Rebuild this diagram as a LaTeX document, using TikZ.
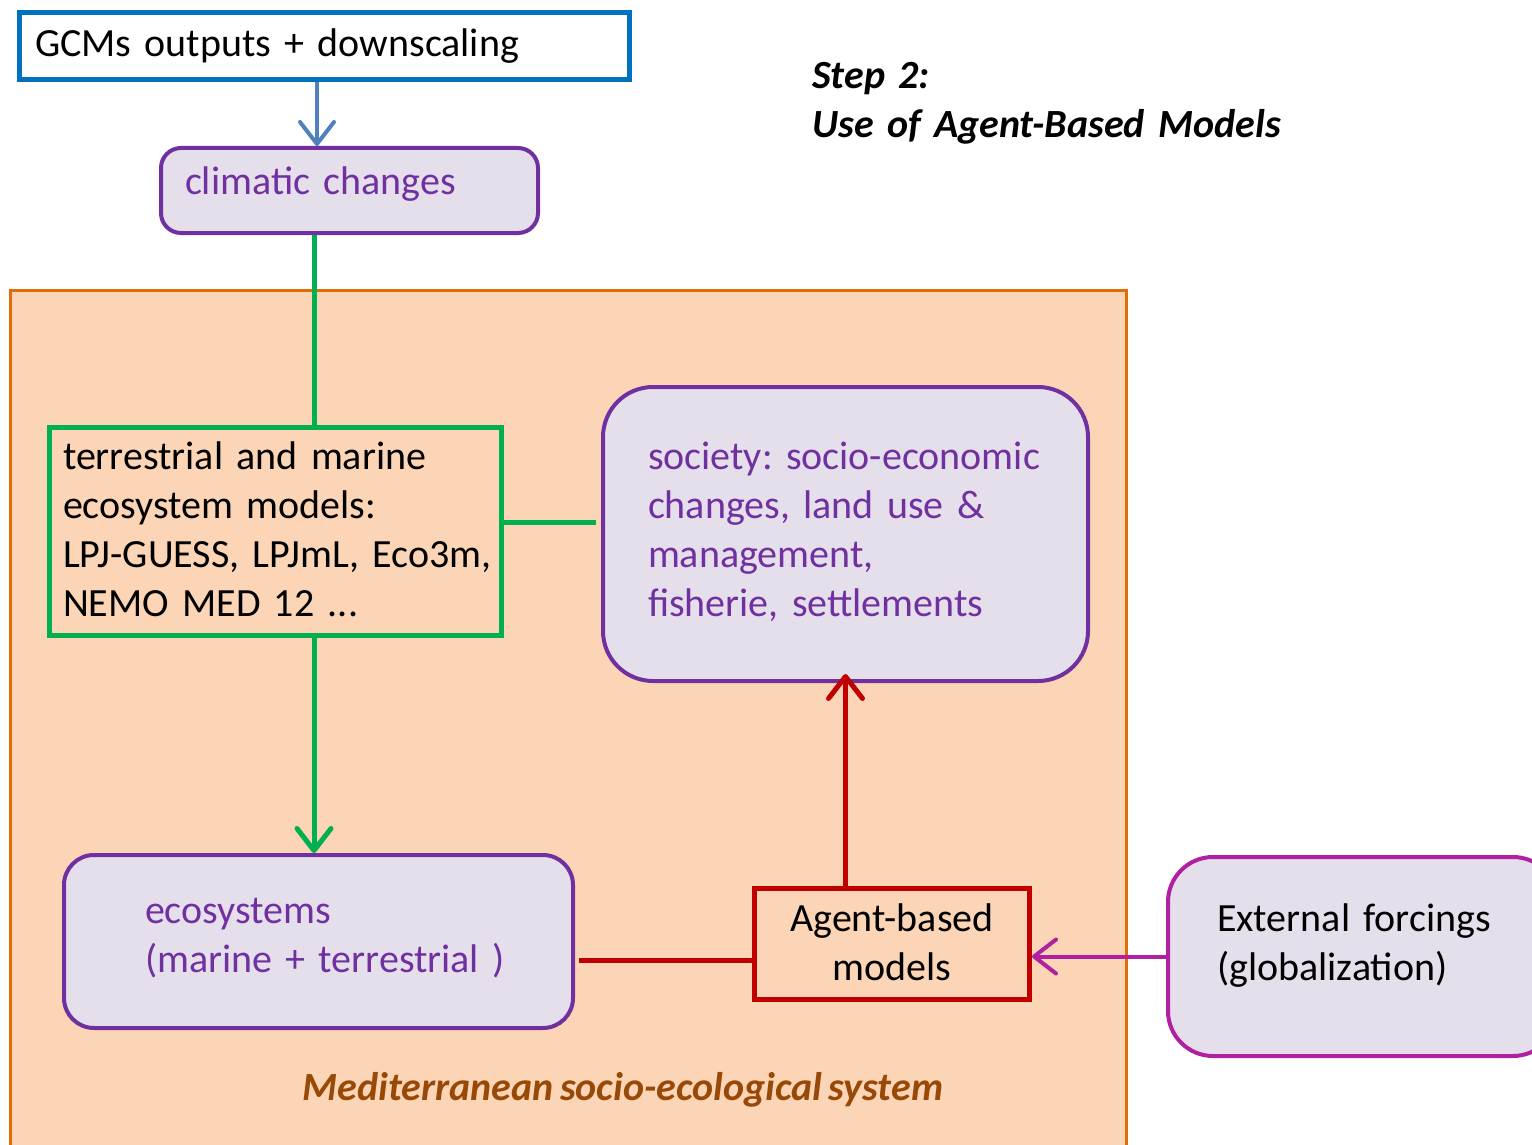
\documentclass[tikz,border=0pt]{standalone}
\usepackage{fontspec}
\setmainfont[WordSpace=0.7]{Carlito}
\frenchspacing
\usetikzlibrary{arrows.meta,calc}
\definecolor{gcmblue}{HTML}{0070C0}
\definecolor{arrblue}{HTML}{4F81BD}
\definecolor{purp}{HTML}{7030A0}
\definecolor{lav}{HTML}{E5DFEC}
\definecolor{panelfill}{HTML}{FBD5B5}
\definecolor{paneldraw}{HTML}{E36C09}
\definecolor{grn}{HTML}{00B050}
\definecolor{redc}{HTML}{C00000}
\definecolor{mag}{RGB}{176,32,160}
\definecolor{brownc}{HTML}{984807}
\tikzset{
  box/.style={draw, inner xsep=0pt, inner ysep=0pt, font=\fontsize{40}{49}\selectfont, align=left},
  rbox/.style={box, fill=lav, line width=4pt},
  tip/.style={-{Straight Barb[length=22pt,width=34pt,round]}},
  conn/.style={line width=5pt},
}
\begin{document}
\begin{tikzpicture}[x=1pt,y=-1pt]
\useasboundingbox (0,0) rectangle (1532,1145);
\fill[white] (0,0) rectangle (1532,1145);
% panel
\node[draw=paneldraw, fill=panelfill, line width=3pt, minimum width=1116pt, minimum height=860pt, inner sep=0pt] (panel) at (568.5,720) {};
% boxes
\node[box, draw=gcmblue, fill=white, line width=5pt, minimum width=610pt, minimum height=67pt, text width=579pt] (gcm) at (324.5,46) {GCMs outputs + downscaling};
\node[rbox, draw=purp, text=purp, rounded corners=20pt, minimum width=377pt, minimum height=85pt, text width=329pt, text height=30pt, text depth=23pt] (clim) at (349.5,190.5) {climatic changes};
\node[box, draw=grn, line width=5pt, minimum width=452pt, minimum height=208pt, text width=425pt, text height=30pt, text depth=155pt] (terr) at (275.5,531.5)
  {\mbox{terrestrial and marine}\\\mbox{ecosystem models:}\\\mbox{LPJ-GUESS, LPJmL, Eco3m,}\\\mbox{NEMO MED 12 ...}};
\node[rbox, draw=purp, text=purp, rounded corners=50pt, minimum width=485pt, minimum height=294pt, text width=395pt, text height=30pt, text depth=160pt] (soc) at (845.5,534)
  {\mbox{society: socio-economic}\\\mbox{changes, land use \&}\\\mbox{management,}\\\mbox{fisherie, settlements}};
\node[rbox, draw=purp, text=purp, rounded corners=30pt, minimum width=509pt, minimum height=173pt, text width=347pt, text height=30pt, text depth=67pt] (eco) at (318.5,941.5)
  {\mbox{ecosystems}\\\mbox{(marine + terrestrial )}};
\node[box, draw=redc, line width=5pt, align=center, minimum width=275pt, minimum height=111pt, text width=260pt, text height=30pt, text depth=56pt] (abm) at (892,944)
  {\mbox{Agent-based}\\\mbox{models}};
\node[rbox, draw=mag, rounded corners=45pt, minimum width=390pt, minimum height=199pt, text width=292pt, text height=30pt, text depth=81pt] (ext) at (1363,956.5)
  {\mbox{External forcings}\\\mbox{(globalization)}};
% texts
\node[font=\fontsize{40}{49}\selectfont\bfseries\itshape, anchor=west, align=left, text width=520pt, inner sep=0pt, text height=30pt, text depth=57pt] (title) at (812,102.5)
  {Step 2:\\Use of Agent-Based Models};
\node[font=\fontsize{40}{48}\selectfont\bfseries\itshape, text=brownc, inner sep=0pt] (medlabel) at (623,1090) {Mediterranean socio-ecological system};
% connectors
\coordinate (gx) at (314,0);
\draw[arrblue, line width=4pt, tip] ([xshift=-7.5pt]gcm.south) -- ([xshift=-7.5pt]gcm.south |- clim.north);
\draw[grn, conn] (gx |- clim.south) -- (gx |- terr.north);
\draw[grn, conn, tip] (gx |- terr.south) -- (gx |- eco.north);
\draw[grn, conn, shorten >=5pt] ([yshift=9.5pt]terr.east) -- ([yshift=9.5pt]terr.east -| soc.west);
\draw[redc, conn, tip, shorten >=-9pt] (soc.south |- abm.north) -- (soc.south);
\draw[redc, conn, shorten <=4pt] ([yshift=-18.5pt]eco.east) -- ([yshift=-18.5pt]eco.east -| abm.west);
\draw[mag, line width=4pt, tip] (ext.west) -- (ext.west -| abm.east);
\end{tikzpicture}
\end{document}
